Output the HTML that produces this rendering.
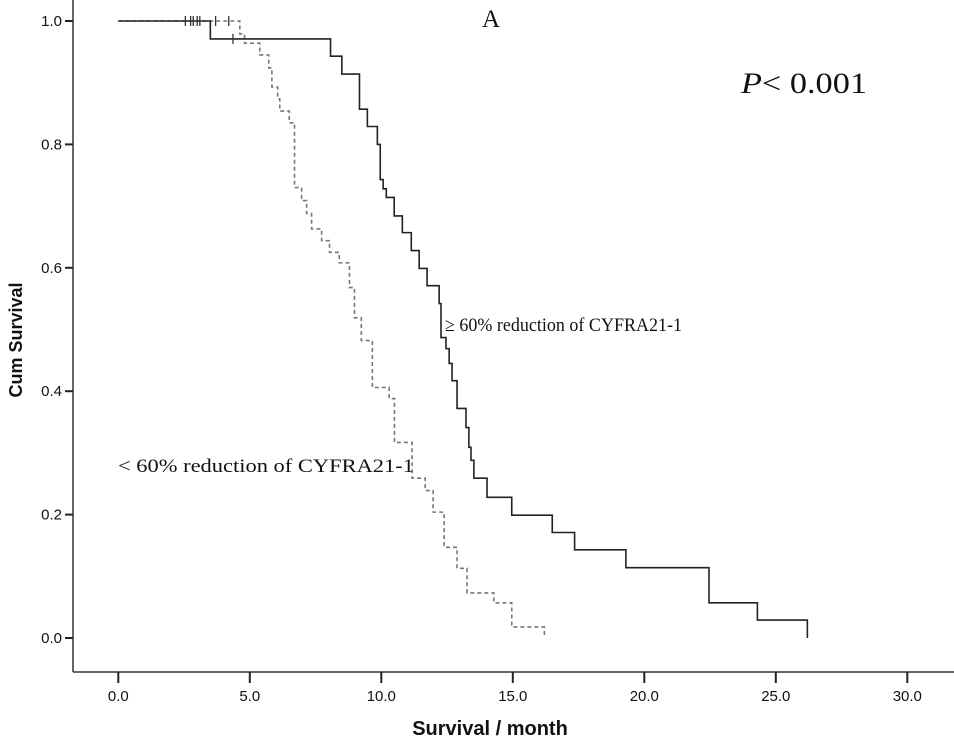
<!DOCTYPE html>
<html><head><meta charset="utf-8"><style>
html,body{margin:0;padding:0;background:#fff}
svg{display:block}
.tk{font-family:"Liberation Sans",Arial,sans-serif;font-size:15px;fill:#111}
.ser{font-family:"Liberation Serif",serif;fill:#111}
</style></head><body>
<svg id="chart" width="954" height="739" viewBox="0 0 954 739">
<g id="axes"></g>
<g id="plot"></g>
<text class="ser" x="482" y="27" font-size="25">A</text>
<text class="ser" x="741" y="93" font-size="30" textLength="126" lengthAdjust="spacingAndGlyphs"><tspan font-style="italic">P</tspan>&lt; 0.001</text>
<text class="ser" x="445" y="331" font-size="19" textLength="237" lengthAdjust="spacingAndGlyphs">≥ 60% reduction of CYFRA21-1</text>
<text class="ser" x="118" y="472" font-size="19" textLength="296" lengthAdjust="spacingAndGlyphs">&lt; 60% reduction of CYFRA21-1</text>
<text x="22" y="340" transform="rotate(-90 22 340)" text-anchor="middle" font-family="'Liberation Sans',Arial,sans-serif" font-weight="bold" font-size="18" fill="#111">Cum Survival</text>
<text x="490" y="735" text-anchor="middle" font-family="'Liberation Sans',Arial,sans-serif" font-weight="bold" font-size="20" fill="#111">Survival / month</text>
</svg>
<script>
const xTicks=[0,5,10,15,20,25,30];
const yTicks=[0,0.2,0.4,0.6,0.8,1.0];
const highTimes=[3.5,8.07,8.5,9.17,9.47,9.85,9.96,10.07,10.19,10.49,10.8,11.14,11.44,11.74,12.2,12.27,12.46,12.58,12.69,12.88,13.22,13.33,13.41,13.52,14.02,14.96,16.5,17.35,19.3,22.46,24.3,26.2];
const highSurv=[0.971,0.943,0.914,0.857,0.829,0.8,0.743,0.728,0.714,0.684,0.657,0.628,0.599,0.571,0.542,0.487,0.469,0.445,0.417,0.372,0.341,0.309,0.288,0.259,0.228,0.199,0.171,0.143,0.114,0.057,0.029,0];
const highEnd=26.2;
const highCensorT=[2.55,2.75,2.85,3.0,3.1,3.7,4.2];
const highCensorS=[1,1,1,1,1,1,1];
const highCensor2T=[4.36];
const highCensor2S=[0.971];
const lowTimes=[4.62,4.8,5.38,5.72,5.84,6.06,6.14,6.5,6.7,6.97,7.16,7.35,7.73,8.03,8.4,8.79,8.98,9.24,9.66,10.3,10.5,11.17,11.67,11.97,12.39,12.88,13.26,14.28,14.96];
const lowSurv=[0.979,0.964,0.945,0.924,0.893,0.874,0.854,0.835,0.73,0.709,0.688,0.663,0.644,0.625,0.608,0.568,0.519,0.482,0.406,0.388,0.317,0.259,0.239,0.204,0.147,0.113,0.073,0.057,0.018];
const lowEnd=16.2;
const lowEndDrop=0.003;

const NS="http://www.w3.org/2000/svg";
const X=t=>118.3+t*26.3;
const Y=s=>638-s*617;
const axes=document.getElementById('axes');
const plot=document.getElementById('plot');
function mk(tag,attrs,parent){const e=document.createElementNS(NS,tag);for(const k in attrs)e.setAttribute(k,attrs[k]);parent.appendChild(e);return e;}

let e=mk('line',{x1:73,y1:0,x2:73,y2:672,stroke:'#333','stroke-width':1.5},axes);


e=mk('line',{x1:73,y1:672,x2:954,y2:672,stroke:'#333','stroke-width':1.5},axes);


xTicks.forEach(v=>{
  let l=mk('line',{x1:X(v),y1:672,x2:X(v),y2:683,stroke:'#222','stroke-width':2},axes);
  
  
  let t=mk('text',{x:X(v),y:701,'text-anchor':'middle',class:'tk'},axes);
  t.textContent=v.toFixed(1);
  
  
});
yTicks.forEach(v=>{
  let l=mk('line',{x1:65,y1:Y(v),x2:73,y2:Y(v),stroke:'#222','stroke-width':2},axes);
  
  
  let t=mk('text',{x:62,y:Y(v)+5,'text-anchor':'end',class:'tk'},axes);
  t.textContent=v.toFixed(1);
  
  
});
function stepPath(times,surv){
  let d='M'+X(0)+','+Y(1);
  times.forEach((t,i)=>{d+=' H'+X(t)+' V'+Y(surv[i]);});
  return d;
}
let lowD=stepPath(lowTimes,lowSurv)+' H'+X(lowEnd)+' V'+Y(lowEndDrop);
let p=mk('path',{d:lowD,fill:'none',stroke:'#777','stroke-width':1.6,'stroke-dasharray':'4,3'},plot);


let highD=stepPath(highTimes,highSurv);
p=mk('path',{d:highD,fill:'none',stroke:'#222','stroke-width':1.6},plot);


function censors(T,S){T.forEach((t,i)=>{
  let c=mk('line',{x1:X(t),y1:Y(S[i])-5,x2:X(t),y2:Y(S[i])+5,stroke:'#333','stroke-width':1.3},plot);
  
  
});}
censors(highCensorT,highCensorS);
censors(highCensor2T,highCensor2S);
</script>
</body></html>
